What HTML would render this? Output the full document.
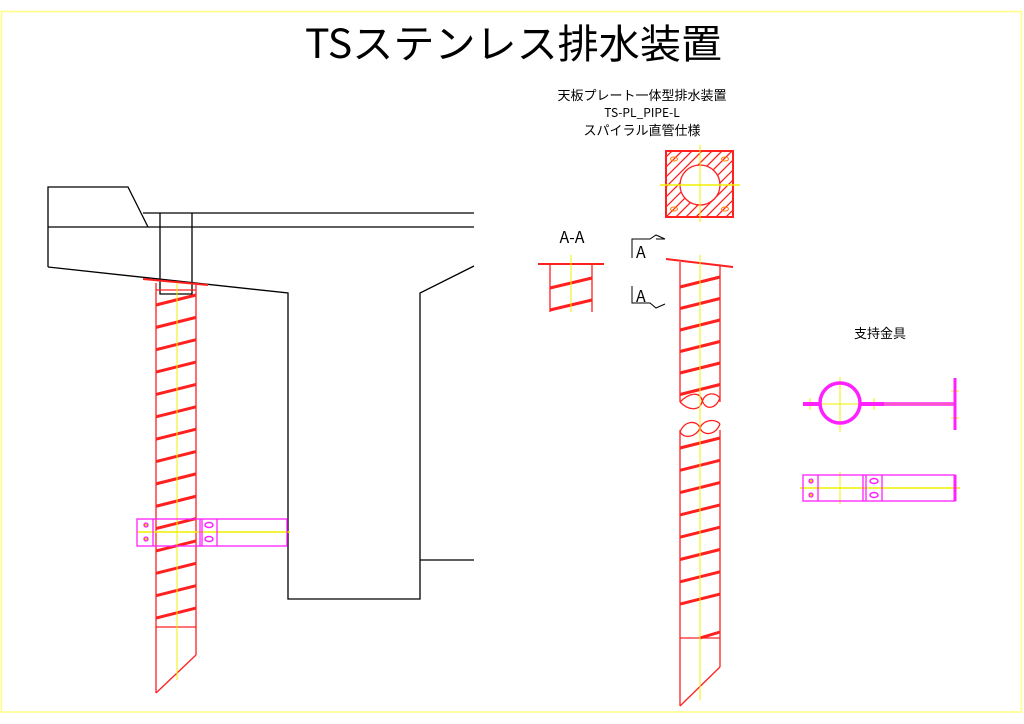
<!DOCTYPE html>
<html><head><meta charset="utf-8"><style>
html,body{margin:0;padding:0;background:#fff;width:1024px;height:724px;overflow:hidden}
svg{display:block}
text{font-family:"Noto Sans CJK JP","Liberation Sans",sans-serif;fill:#000}
</style></head><body>
<svg id="s" width="1024" height="724" viewBox="0 0 1024 724" xmlns="http://www.w3.org/2000/svg">
<rect x="1.5" y="11.5" width="1020" height="700.5" fill="none" stroke="#ffff80" stroke-width="1.5"/>
<text x="305" y="58" font-size="40" textLength="417" lengthAdjust="spacingAndGlyphs">TSステンレス排水装置</text>
<text x="642" y="100" font-size="13" text-anchor="middle">天板プレート一体型排水装置</text>
<text x="642" y="117" font-size="12" text-anchor="middle">TS-PL_PIPE-L</text>
<text x="642" y="135" font-size="13" text-anchor="middle">スパイラル直管仕様</text>
<text x="572" y="243" font-size="16" text-anchor="middle">A-A</text>
<text x="636" y="258" font-size="16">A</text>
<text x="636" y="302" font-size="16">A</text>
<text x="880" y="338" font-size="13" text-anchor="middle">支持金具</text>

<g fill="none" stroke="#000" stroke-width="1.3">
<polyline points="48,267 48,187 128,187 148,227"/>
<line x1="48" y1="227" x2="474" y2="227"/>
<line x1="143" y1="213" x2="474" y2="213"/>
<polyline points="48,267 288,293 288,599 420,599 420,293 474,266"/>
<line x1="420" y1="560" x2="474" y2="560"/>
<polyline points="160,213 160,294 192,294 192,213"/>
</g>
<g fill="none" stroke="#000" stroke-width="1">
<polyline points="632,258 632,239 650,239 656,235 665,239 656,239"/>
<polyline points="632,286 632,303 650,303 656,308 665,304"/>
</g>

<g id="red" fill="none" stroke="#ff2020" stroke-width="1.3"></g>
<g id="yel" fill="none" stroke="#f0f000" stroke-width="1"></g>
<g id="pink" fill="none" stroke="#ff20ff" stroke-width="1.3"></g>
</svg>
<script>
const NS="http://www.w3.org/2000/svg";
function el(g,tag,a){const e=document.createElementNS(NS,tag);for(const k in a)e.setAttribute(k,a[k]);document.getElementById(g).appendChild(e);return e;}
function L(g,x1,y1,x2,y2,w){const a={x1,y1,x2,y2};if(w)a['stroke-width']=w;return el(g,'line',a);}
L('red',143,279,208,285,2);
L('red',156,290,196,290);
L('red',156,283,156,693);L('red',196,285,196,655);
L('red',156,693,196,655);L('red',156,627,196,627);
for(let i=0;i<15;i++){const y=305+i*22.36;L('red',156,y,196,y-10,3);}
L('yel',177,283,177,680);
el('pink','rect',{x:137,y:519,width:150,height:27});
[153,200,202,217].forEach(x=>L('pink',x,519,x,546));
L('yel',137,532,290,532,1.5);
[[146,525],[146,539]].forEach(p=>el('pink','circle',{cx:p[0],cy:p[1],r:2,fill:'#f0d000'}));
[[209,525],[209,539]].forEach(p=>el('pink','ellipse',{cx:p[0],cy:p[1],rx:4,ry:2.5,'stroke-width':1.5}));
el('red','rect',{x:666,y:151,width:67,height:66,'stroke-width':2});
el('red','circle',{cx:700,cy:185,r:20});
let hatch='';
for(let k=-70;k<140;k+=10){hatch+=`M${666+k},217 L${666+k+66},151 `;}
el('red','path',{d:hatch,'clip-path':'url(#sq)'});
document.getElementById('s').insertAdjacentHTML('afterbegin','<defs><clipPath id="sq"><path d="M666,151h67v66h-67z M700,165 a20,20 0 1,0 0.01,0z" clip-rule="evenodd"/></clipPath></defs>');
L('yel',660,185,740,185,1.5);L('yel',700,145,700,222);
[[674,159],[725,159],[674,209],[725,209]].forEach(p=>el('yel','ellipse',{cx:p[0],cy:p[1],rx:3.5,ry:2,stroke:'#ff8000'}));
L('red',538,264,604,264,2);L('red',550,264,550,312);L('red',592,264,592,312);
L('red',550,288,592,278,3);L('red',550,310,592,300,3);
L('yel',571,255,571,312);
L('red',666,259,733,267,2);
L('red',680,262,680,402);L('red',720,266,720,402);
L('red',680,430,680,706);L('red',720,430,720,667);
L('red',680,706,720,667);L('red',680,638,720,638);
for(let i=0;i<6;i++){const y=287+i*21.5;L('red',680,y,720,y-10,3);}
el('red','path',{d:'M680,402 C690,392 700,392 702,400 C705,410 715,410 720,398 M680,402 C690,412 700,410 702,402 C705,392 715,392 720,398'});
el('red','path',{d:'M680,432 C685,420 697,420 700,428 C703,436 715,436 720,424 M680,432 C685,440 697,436 700,428 C703,420 715,418 720,424'});
for(let i=0;i<8;i++){const y=448+i*22.3;L('red',680,y,720,y-10,3);}
L('red',700,638,720,632,3);
L('yel',700,255,700,700);
el('pink','circle',{cx:840,cy:403,r:20,'stroke-width':3.5});
L('pink',803,404,820,404,4);L('pink',860,404,884,404,4);
L('pink',884,403,955,403,1.5);L('pink',884,405,955,405,1.5);
L('pink',955,378,955,430,3);
L('yel',840,377,840,432);L('yel',812,404,955,404);
L('yel',810,398,810,410);L('yel',874,398,874,410);L('yel',951,391,959,391);L('yel',951,418,959,418);
el('pink','rect',{x:803,y:475,width:152,height:26});
[818,863,866,882].forEach(x=>L('pink',x,475,x,501));
L('pink',955,475,955,501,3);
L('yel',800,488,960,488,1.5);L('yel',840,472,840,504);
[[811,481],[811,495]].forEach(p=>el('pink','circle',{cx:p[0],cy:p[1],r:2,fill:'#f0d000'}));
[[874,481],[874,495]].forEach(p=>el('pink','ellipse',{cx:p[0],cy:p[1],rx:4,ry:2.5,'stroke-width':1.5}));
</script>
</body></html>
